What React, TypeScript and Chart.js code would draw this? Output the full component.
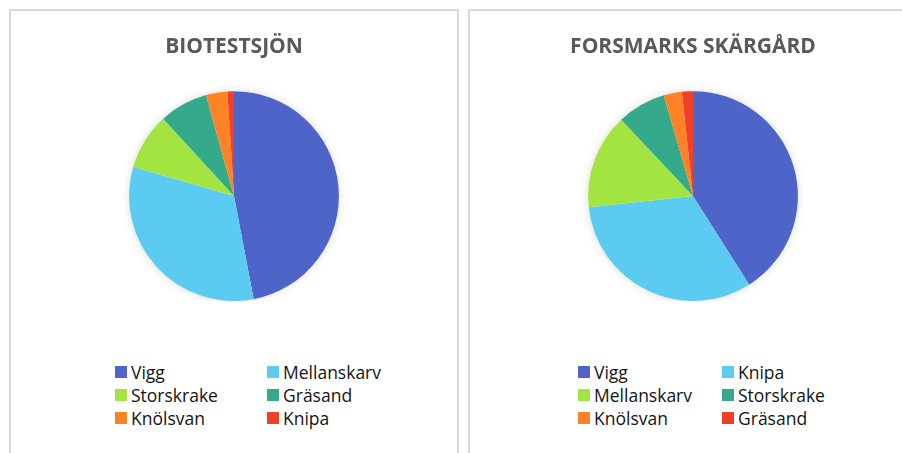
import React, { useEffect, useRef } from "react";
import { Chart, registerables } from "chart.js";

Chart.register(...registerables);

const sliceColors = ["#4E64C9", "#5CCBF1", "#A2E440", "#35AA8B", "#FF8326", "#F0402A"];

const bioTitle = "BIOTESTSJÖN";
const bioLabels = ["Vigg", "Mellanskarv", "Storskrake", "Gräsand", "Knölsvan", "Knipa"];
const bioValues = [47, 32.5, 8.7, 7.5, 3.3, 1.0];

const forsTitle = "FORSMARKS SKÄRGÅRD";
const forsLabels = ["Vigg", "Knipa", "Mellanskarv", "Storskrake", "Knölsvan", "Gräsand"];
const forsValues = [41, 32.3, 14.7, 7.5, 2.8, 1.7];

const glowPlugin = {
  id: "glow",
  beforeDatasetsDraw(chart: any) {
    const meta = chart.getDatasetMeta(0);
    const arc = meta && meta.data && meta.data[0];
    if (!arc) return;
    const ctx = chart.ctx;
    ctx.save();
    ctx.shadowColor = "rgba(90,90,60,0.22)";
    ctx.shadowBlur = 8;
    ctx.fillStyle = "#ffffff";
    ctx.beginPath();
    ctx.arc(arc.x, arc.y, arc.outerRadius, 0, Math.PI * 2);
    ctx.fill();
    ctx.restore();
  },
};

type PanelProps = {
  title: string;
  labels: string[];
  values: number[];
  left: number;
  col1: number;
  col2: number;
};

function PiePanel({ title, labels, values, left, col1, col2 }: PanelProps) {
  const ref = useRef<HTMLCanvasElement | null>(null);
  useEffect(() => {
    if (!ref.current) return;
    const chart = new Chart(ref.current, {
      type: "pie",
      data: {
        labels,
        datasets: [
          {
            data: values,
            backgroundColor: sliceColors,
            borderWidth: 0,
            hoverOffset: 0,
          },
        ],
      },
      options: {
        animation: false,
        responsive: false,
        maintainAspectRatio: false,
        rotation: 0,
        layout: { padding: 0 },
        plugins: {
          legend: { display: false },
          tooltip: { enabled: false },
          title: {
            display: true,
            text: title,
            color: "#595959",
            font: { family: "'Open Sans'", size: 21, weight: "bold" },
            padding: { top: 23, bottom: 32 },
          },
        },
      },
      plugins: [glowPlugin],
    });
    return () => chart.destroy();
  }, [title, labels, values]);

  return (
    <div
      style={{
        position: "absolute",
        left,
        top: 9,
        width: 446,
        height: 470,
        border: "2px solid #d9d9d9",
        background: "#fff",
      }}
    >
      <canvas ref={ref} width={446} height={290} style={{ display: "block", width: 446, height: 290 }} />
      {labels.map((lab, i) => {
        const row = Math.floor(i / 2);
        const col = i % 2;
        return (
          <div
            key={lab}
            style={{
              position: "absolute",
              left: col === 0 ? col1 : col2,
              top: 361 + row * 23 - 11.5,
              height: 23,
              display: "flex",
              alignItems: "center",
              fontFamily: "'Open Sans', sans-serif",
              fontSize: 17.5,
              color: "#141414",
              whiteSpace: "nowrap",
            }}
          >
            <span
              style={{
                display: "inline-block",
                width: 12,
                height: 12,
                background: sliceColors[i],
                marginRight: 4,
              }}
            />
            <span>{lab}</span>
          </div>
        );
      })}
    </div>
  );
}

export default function App() {
  return (
    <div
      style={{
        position: "fixed",
        left: 0,
        top: 0,
        width: 902,
        height: 453,
        overflow: "hidden",
        background: "#fff",
      }}
    >
      <PiePanel title={bioTitle} labels={bioLabels} values={bioValues} left={9} col1={104} col2={256} />
      <PiePanel title={forsTitle} labels={forsLabels} values={forsValues} left={468} col1={108} col2={252} />
    </div>
  );
}
